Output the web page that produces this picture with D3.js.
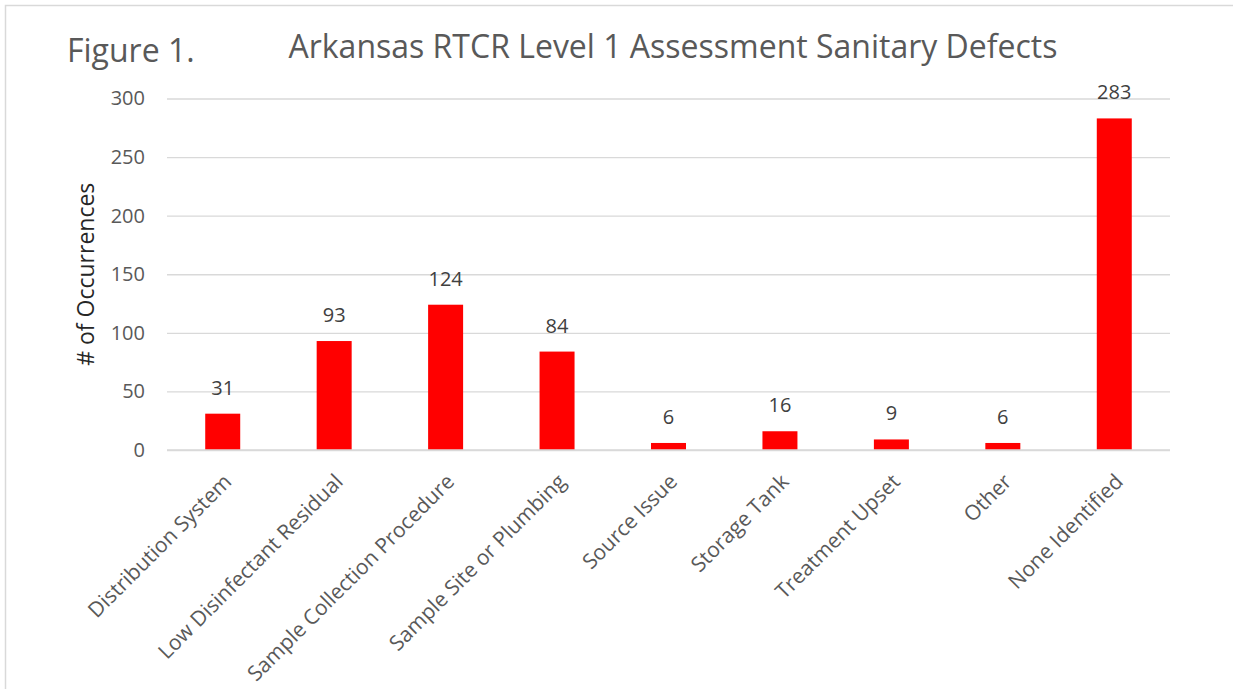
<!DOCTYPE html>
<html><head><meta charset="utf-8">
<script src="https://cdn.jsdelivr.net/npm/d3@7"></script>
<style>body{margin:0;background:#fff;} svg{display:block;font-family:"Open Sans",sans-serif;}</style>
</head><body><svg id="c" width="1233" height="689"></svg>
<script>
const categories = ["Distribution System","Low Disinfectant Residual","Sample Collection Procedure","Sample Site or Plumbing","Source Issue","Storage Tank","Treatment Upset","Other","None Identified"];
const values = [31,93,124,84,6,16,9,6,283];
const yTicks = [0,50,100,150,200,250,300];

const svg = d3.select("#c");
const textColor = "#595959";
// outer border
svg.append("rect").attr("x",5.5).attr("y",5.5).attr("width",1240).attr("height",700)
  .attr("fill","none").attr("stroke","#d9d9d9").attr("stroke-width",1.5);

const m = {left:167, right:1170, top:98.5, bottom:450};
const x = d3.scaleBand().domain(categories).range([m.left,m.right]).paddingInner(0.686).paddingOuter(0.343);
const y = d3.scaleLinear().domain([0,300]).range([m.bottom,m.top]);

// gridlines
const grid = svg.append("g").attr("transform",`translate(${m.left},0)`)
  .call(d3.axisLeft(y).tickValues(yTicks).tickSize(-(m.right-m.left)).tickFormat(""));
grid.select(".domain").remove();
grid.selectAll("line").attr("stroke","#d9d9d9").attr("stroke-width",1.3);

// y axis labels
const ya = svg.append("g").attr("transform",`translate(${m.left},0)`)
  .call(d3.axisLeft(y).tickValues(yTicks).tickSize(0).tickPadding(22));
ya.select(".domain").remove();
ya.selectAll("text").attr("fill",textColor).style("font-size","20px").style("font-family","'Open Sans',sans-serif");

// bars
svg.append("g").selectAll("rect").data(values).join("rect")
  .attr("x",(d,i)=>x(categories[i])).attr("width",x.bandwidth())
  .attr("y",d=>y(d)).attr("height",d=>y(0)-y(d)).attr("fill","#ff0000");

// baseline
svg.append("line").attr("x1",m.left).attr("x2",m.right).attr("y1",y(0)).attr("y2",y(0))
  .attr("stroke","#d9d9d9").attr("stroke-width",1.5);

// value labels
svg.append("g").selectAll("text").data(values).join("text")
  .attr("x",(d,i)=>x(categories[i])+x.bandwidth()/2).attr("y",d=>y(d)-19)
  .attr("text-anchor","middle").attr("fill","#404040").style("font-size","20px")
  .text(d=>d);

// x axis labels
const xa = svg.append("g").attr("transform",`translate(0,${m.bottom})`)
  .call(d3.axisBottom(x).tickSize(0).tickPadding(0));
xa.select(".domain").remove();
xa.selectAll("text").attr("fill",textColor).style("font-size","21px").style("font-family","'Open Sans',sans-serif")
  .attr("text-anchor","end").attr("dy",null).attr("y",0)
  .attr("transform","translate(10,33) rotate(-45)");

// y axis title
svg.append("text").attr("transform",`translate(94,${(m.top+m.bottom)/2}) rotate(-90)`)
  .attr("text-anchor","middle").attr("fill","#262626").style("font-size","23px").text("# of Occurrences");

// titles
svg.append("text").attr("x",67).attr("y",62).attr("fill",textColor).style("font-size","32px").text("Figure 1.");
svg.append("text").attr("x",673).attr("y",58).attr("text-anchor","middle").attr("fill",textColor).style("font-size","32px")
  .text("Arkansas RTCR Level 1 Assessment Sanitary Defects");
</script></body></html>
